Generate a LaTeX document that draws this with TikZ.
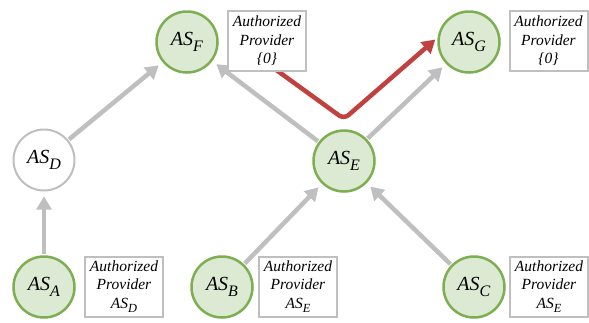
\documentclass[tikz,border=0pt]{standalone}
\usepackage{fontspec}
\setmainfont{LiberationSerif}[Extension=.ttf, UprightFont=*-Regular, ItalicFont=*-Italic, BoldFont=*-Bold]
\usetikzlibrary{arrows.meta}
\definecolor{asgreen}{HTML}{7DAF52}
\definecolor{asfill}{HTML}{DCEAD3}
\definecolor{asgray}{HTML}{BFBFBF}
\definecolor{asred}{HTML}{C0413D}
\makeatletter
\newcommand{\asname}[1]{\textit{AS}\raisebox{-0.3em}{\fontsize{0.8\dimexpr\f@size pt\relax}{0pt}\selectfont\textit{#1}}}
\makeatother
\begin{document}
\begin{tikzpicture}[x=1pt,y=-1pt,
 asnode/.style={circle, draw=asgreen, fill=asfill, line width=2.5pt, minimum size=61pt, inner sep=0pt, font=\fontsize{20}{20}\selectfont},
 asplain/.style={asnode, draw=asgray, fill=white, line width=2pt},
 infobox/.style={draw=asgray, fill=white, line width=2pt, minimum width=78pt, minimum height=60pt, inner sep=0pt, align=center, font=\fontsize{15.5}{18.5}\selectfont\itshape},
 link/.style={draw=asgray, line width=4.5pt, -{Triangle[length=13pt,width=15pt]}, shorten >=5pt, shorten <=1pt},
 route/.style={draw=asred, line width=4.5pt, -{Triangle[length=13pt,width=15pt]}, rounded corners=6pt, shorten >=3pt}]
\useasboundingbox (0,0) rectangle (589,322);
\node[asnode] (F) at (187,42) {\asname{F}};
\node[asnode] (G) at (469,42) {\asname{G}};
\node[asplain] (D) at (44,160) {\asname{D}};
\node[asnode] (E) at (344,161) {\asname{E}};
\node[asnode] (A) at (44,287) {\asname{A}};
\node[asnode] (B) at (222,287) {\asname{B}};
\node[asnode] (C) at (474,287) {\asname{C}};
\coordinate (rstart) at (268,64);
\coordinate (rbend) at (344,119);
\draw[route] (rstart) -- (rbend) -- (G.172);
\draw[link] (A) -- (D);
\draw[link] (D) -- (F);
\draw[link] (E) -- (F);
\draw[link] (E) -- (G);
\draw[link] (B) -- (E);
\draw[link] (C) -- (E);
\node[infobox] (bF) at (267,41) {Authorized\\Provider\\\{0\}};
\node[infobox] (bG) at (548.5,41) {Authorized\\Provider\\\{0\}};
\node[infobox] (bA) at (124,286.5) {Authorized\\Provider\\\asname{D}};
\node[infobox] (bB) at (298,286.5) {Authorized\\Provider\\\asname{E}};
\node[infobox] (bC) at (549,286.5) {Authorized\\Provider\\\asname{E}};
\end{tikzpicture}
\end{document}
